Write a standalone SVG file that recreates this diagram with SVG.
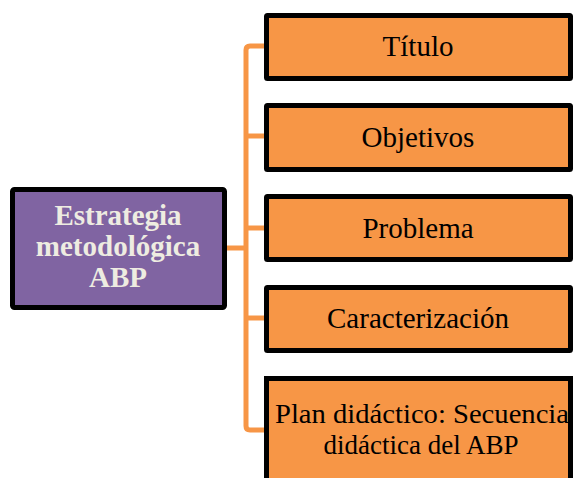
<svg xmlns="http://www.w3.org/2000/svg" width="578" height="478" viewBox="0 0 578 478">
<style>
.box{fill:#F79646;stroke:#000;stroke-width:5}
.lbl{font-family:"Liberation Serif","Times New Roman",serif;font-size:29px;fill:#000;text-anchor:middle}
.c{fill:none;stroke:#F79646;stroke-width:5}
</style>
<rect width="578" height="478" fill="#fff"/>
<g id="connectors">
<path class="c" d="M227 248 H246"/>
<path class="c" d="M266 46 H250 Q246 46 246 50 V426 Q246 430 250 430 H266"/>
<path class="c" d="M246 136 H266"/>
<path class="c" d="M246 228 H266"/>
<path class="c" d="M246 318 H266"/>
</g>
<g id="center">
<rect x="12.5" y="189.5" width="212" height="118" rx="2" fill="#8064A2" stroke="#000" stroke-width="5"/>
<text font-family="Liberation Serif,'Times New Roman',serif" font-size="29" font-weight="bold" fill="#EEECE1" text-anchor="middle">
<tspan x="118" y="225">Estrategia</tspan><tspan x="118" y="256">metodológica</tspan><tspan x="118" y="287">ABP</tspan></text>
</g>
<g id="titulo"><rect class="box" x="266.5" y="15.5" width="304" height="63" rx="1"/><text class="lbl" x="418" y="56">Título</text></g>
<g id="objetivos"><rect class="box" x="266.5" y="105.5" width="304" height="64" rx="1"/><text class="lbl" x="418" y="147">Objetivos</text></g>
<g id="problema"><rect class="box" x="266.5" y="196.5" width="304" height="63" rx="1"/><text class="lbl" x="418" y="238">Problema</text></g>
<g id="caracterizacion"><rect class="box" x="266.5" y="287.5" width="304" height="63" rx="1"/><text class="lbl" x="418" y="328">Caracterización</text></g>
<g id="plan"><rect class="box" x="266.5" y="378.5" width="304" height="110"/><text class="lbl" style="font-size:27px"><tspan x="422" y="423" textLength="294" lengthAdjust="spacingAndGlyphs">Plan didáctico: Secuencia</tspan><tspan x="421" y="454">didáctica del ABP</tspan></text></g>
</svg>
